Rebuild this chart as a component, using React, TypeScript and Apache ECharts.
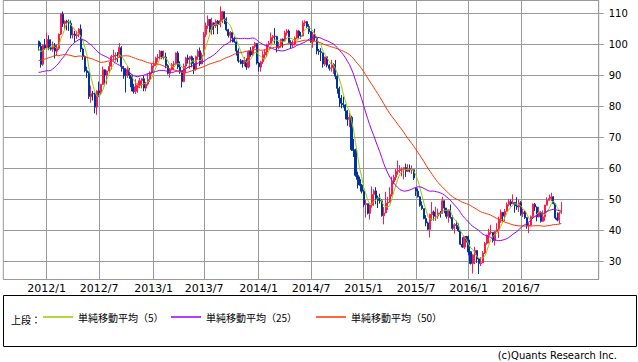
import React, { useEffect, useRef } from "react";
import * as echarts from "echarts";

// ---- axis / label data ----
const axisStartDate = "2011-08-08"; // first weekly slot shown on the x axis
const axisWeekCount = 295;
const firstCandleDate = "2011-12-05";
const xTickLabels = ["2012/1", "2012/7", "2013/1", "2013/7", "2014/1", "2014/7", "2015/1", "2015/7", "2016/1", "2016/7"];
const yTickStep = 10;
const yMin = 24.27;
const yMax = 114.28;

const seriesNames = ["単純移動平均（5）", "単純移動平均（25）", "単純移動平均（50）"];
const maPeriods = [5, 25, 50];
const maColors = ["#99cc00", "#9900ff", "#ff3300"];
const upColor = "#ff1a4b";
const downColor = "#0033a0";

// weekly closes before the first drawn candle (used only for the moving averages)
const preCloses = [
  88.02, 91.51, 91.38, 88.03, 91.54, 89.11, 89.34, 89.03, 85.58, 86.2,
  97.88, 104.42, 101.16, 101.07, 105.4, 107.94, 112.79, 109.66, 112.29, 113.93,
  97.18, 99.65, 99.49, 100.59, 100.22, 99.29, 93.01, 91.16, 94.94, 96.2,
  97.24, 99.87, 95.7, 86.88, 85.38, 82.26, 85.37, 86.45, 87.24, 87.96,
  79.85, 79.2, 82.98, 86.8, 87.4, 93.32, 94.26, 98.99, 97.41, 96.77, 100.96,
];

// weekly candles: [open, close, low, high]
const ohlc2011 = [
  [100.96, 99.41, 98.0, 101.2], [99.41, 93.53, 92.52, 100.62], [93.6, 99.68, 93.1, 99.95], [99.7, 98.83, 98.2, 101.77],
];
const ohlc2012 = [
  [99.0, 101.56, 98.9, 103.74], [101.5, 98.7, 98.1, 102.9], [98.9, 98.46, 98.0, 101.6], [98.4, 99.56, 97.6, 100.9],
  [99.6, 97.84, 95.44, 100.4], [97.8, 98.67, 96.5, 100.0], [98.7, 103.24, 98.2, 103.5], [103.3, 109.77, 103.0, 109.95],
  [109.7, 106.7, 105.6, 110.55], [106.7, 107.4, 104.7, 107.7], [107.4, 107.06, 104.5, 107.9], [107.0, 106.87, 104.3, 108.0],
  [106.8, 103.02, 101.9, 107.7], [103.0, 103.31, 101.9, 105.5], [103.3, 102.83, 100.7, 104.3], [102.8, 103.05, 101.8, 104.4],
  [103.1, 104.93, 102.3, 105.2], [104.9, 98.49, 97.5, 106.4], [98.5, 96.13, 95.0, 98.9], [96.1, 91.48, 91.0, 96.4],
  [91.5, 90.86, 89.2, 92.8], [90.9, 83.23, 82.4, 91.3], [83.2, 84.1, 81.2, 86.7], [84.1, 84.03, 81.9, 85.0],
  [84.0, 79.76, 77.8, 84.5], [79.8, 84.96, 77.28, 85.2], [85.0, 84.45, 83.0, 88.0], [84.5, 87.1, 83.6, 87.3],
  [87.1, 91.83, 86.9, 92.9], [91.8, 90.13, 86.7, 91.9], [90.1, 91.4, 87.1, 91.6], [91.4, 92.87, 90.9, 94.3],
  [92.9, 96.01, 91.9, 96.6], [96.0, 96.15, 94.7, 98.3], [96.1, 96.47, 94.3, 97.4], [96.5, 96.42, 94.2, 97.5],
  [96.4, 99.0, 95.7, 100.42], [98.9, 92.89, 91.2, 99.4], [92.9, 92.19, 88.9, 93.0], [92.2, 89.88, 84.5, 92.3],
  [89.9, 91.86, 89.2, 93.0], [91.9, 90.05, 88.9, 92.4], [90.1, 86.28, 84.9, 90.3], [86.3, 84.86, 84.1, 87.3],
  [84.9, 86.07, 84.0, 88.8], [86.1, 86.92, 84.4, 87.4], [86.9, 88.28, 85.9, 89.2], [88.3, 88.91, 85.8, 89.2],
  [88.9, 85.93, 84.9, 89.9], [85.9, 87.2, 84.9, 87.9], [87.2, 88.66, 86.7, 90.6], [88.7, 90.8, 87.9, 91.3],
  [90.8, 93.09, 90.3, 93.8],
];
const ohlc2013 = [
  [93.1, 93.56, 92.5, 94.5], [93.6, 95.56, 93.1, 96.0], [95.6, 95.88, 94.4, 96.9], [95.9, 97.77, 95.3, 98.2],
  [97.8, 95.72, 95.2, 97.9], [95.7, 95.86, 95.1, 98.0], [95.9, 93.13, 92.3, 97.3], [93.1, 90.68, 90.3, 93.6],
  [90.7, 91.95, 89.3, 92.4], [92.0, 93.45, 91.6, 94.0], [93.5, 93.71, 91.7, 94.6], [93.7, 97.23, 93.5, 97.4],
  [97.2, 92.7, 92.0, 97.8], [92.7, 91.29, 90.5, 94.5], [91.3, 88.01, 86.1, 91.4], [88.0, 92.96, 87.8, 93.8],
  [93.0, 95.61, 90.6, 96.0], [95.6, 95.17, 93.8, 96.7], [95.2, 96.02, 92.1, 96.1], [96.0, 93.84, 92.6, 96.4],
  [93.8, 91.97, 90.4, 95.6], [92.0, 96.03, 91.5, 96.4], [96.0, 97.85, 95.0, 98.4], [97.9, 93.69, 93.0, 99.0],
  [93.7, 96.56, 93.6, 97.3], [96.6, 103.22, 96.4, 104.0], [103.2, 105.95, 102.4, 107.0], [106.0, 108.05, 105.0, 109.3],
  [108.0, 104.7, 103.8, 108.1], [104.7, 106.94, 103.1, 108.6], [106.9, 106.03, 103.2, 107.1], [106.0, 107.46, 105.3, 108.0],
  [107.5, 106.42, 103.3, 107.8], [106.4, 107.65, 105.5, 112.24], [107.7, 110.53, 106.8, 110.7], [110.5, 108.21, 106.5, 110.6],
  [108.2, 104.67, 104.2, 108.7], [104.7, 102.87, 102.2, 105.0], [102.9, 103.84, 100.6, 104.3], [103.8, 102.02, 100.6, 104.0],
  [102.0, 100.81, 100.5, 102.5], [100.8, 97.85, 96.4, 100.9], [97.9, 94.61, 94.1, 98.7], [94.6, 94.6, 93.6, 95.3],
  [94.6, 93.84, 92.5, 95.0], [93.8, 94.84, 92.9, 95.9], [94.8, 92.72, 91.8, 95.5], [92.7, 97.65, 92.3, 98.0],
  [97.7, 96.6, 96.0, 99.1], [96.6, 99.32, 96.3, 99.4], [99.3, 100.32, 98.7, 100.7], [100.3, 93.96, 93.5, 100.4],
];
const ohlc2014 = [
  [94.0, 92.72, 91.2, 94.3], [92.7, 94.37, 91.2, 94.7], [94.4, 96.64, 93.7, 97.8], [96.6, 97.49, 95.4, 98.4],
  [97.5, 99.88, 96.0, 100.2], [99.9, 100.3, 99.3, 101.1], [100.3, 102.2, 100.1, 103.8], [102.2, 102.59, 101.0, 103.0],
  [102.6, 102.58, 100.2, 105.2], [102.6, 98.89, 97.4, 102.7], [98.9, 99.46, 98.4, 100.8], [99.5, 101.67, 98.9, 101.8],
  [101.7, 101.14, 98.9, 101.9], [101.1, 103.74, 100.8, 104.4], [103.7, 104.3, 102.8, 104.9], [104.3, 100.6, 100.4, 104.8],
  [100.6, 99.76, 98.65, 101.3], [99.8, 99.99, 98.9, 101.3], [100.0, 102.02, 99.6, 102.5], [102.0, 104.35, 101.8, 104.7],
  [104.3, 102.71, 101.9, 104.5], [102.7, 102.66, 101.8, 104.0], [102.7, 106.91, 102.5, 107.7], [106.9, 107.26, 105.9, 107.7],
  [107.3, 105.74, 105.3, 107.5], [105.7, 104.06, 103.3, 106.5], [104.1, 100.83, 100.5, 104.2], [100.8, 103.13, 98.9, 104.0],
  [103.1, 102.09, 101.1, 105.0], [102.1, 97.88, 96.8, 102.1], [97.9, 97.65, 96.6, 98.5], [97.6, 97.35, 94.6, 98.8],
  [97.3, 93.65, 92.5, 97.3], [93.6, 95.96, 93.0, 96.0], [96.0, 93.29, 92.6, 96.0], [93.3, 92.27, 91.5, 93.6],
  [92.3, 92.41, 91.2, 95.0], [92.4, 93.54, 90.5, 94.0], [93.5, 89.74, 88.75, 95.0], [89.7, 85.82, 84.1, 90.7],
  [85.8, 82.75, 79.78, 86.4], [82.7, 81.01, 79.4, 83.7], [81.0, 80.54, 79.6, 83.2], [80.5, 78.65, 75.84, 80.7],
  [78.6, 75.82, 73.75, 78.9], [75.8, 76.51, 73.3, 77.9], [76.5, 66.15, 65.69, 77.0], [66.1, 65.84, 63.72, 69.5],
  [65.8, 57.81, 57.35, 66.4], [57.8, 56.52, 53.6, 59.0], [56.5, 54.73, 54.5, 57.4], [54.7, 52.69, 52.0, 55.0],
];
const ohlc2015 = [
  [52.7, 48.36, 47.55, 53.1], [48.4, 48.69, 44.2, 49.9], [48.7, 45.59, 45.2, 48.7], [45.6, 48.24, 43.58, 48.4],
  [48.2, 51.69, 47.4, 54.24], [51.7, 52.78, 48.0, 53.3], [52.8, 50.34, 48.5, 54.0], [50.3, 49.76, 47.3, 51.3],
  [49.8, 49.61, 48.7, 51.9], [49.6, 44.84, 44.5, 50.2], [44.8, 45.72, 42.03, 47.6], [45.7, 48.87, 45.6, 52.5],
  [48.9, 49.14, 46.7, 50.9], [49.1, 51.64, 49.0, 54.0], [51.6, 55.74, 51.0, 57.4], [55.7, 57.15, 55.0, 58.0],
  [57.2, 59.15, 56.2, 59.9], [59.1, 59.39, 58.0, 62.58], [59.4, 59.69, 58.6, 61.1], [59.7, 59.72, 57.5, 60.4],
  [59.7, 60.3, 56.5, 60.4], [60.3, 59.13, 57.3, 61.6], [59.1, 59.96, 58.9, 61.4], [60.0, 59.61, 58.8, 61.3],
  [59.6, 59.63, 58.3, 61.0], [59.6, 56.93, 56.3, 59.7], [53.6, 52.74, 51.2, 53.9], [52.7, 50.89, 50.7, 53.6],
  [50.9, 48.14, 47.7, 51.1], [48.1, 47.12, 46.7, 49.4], [47.1, 43.87, 43.7, 47.1], [43.9, 42.5, 41.4, 45.0],
  [42.5, 40.45, 40.2, 42.9], [40.4, 45.22, 37.75, 45.5], [45.2, 46.05, 43.2, 49.2], [46.0, 44.63, 43.2, 46.5],
  [44.6, 44.68, 43.2, 47.7], [44.7, 45.7, 43.8, 47.1], [45.7, 45.54, 44.2, 46.3], [45.5, 49.63, 45.5, 50.92],
  [49.6, 47.26, 45.6, 49.8], [47.3, 44.6, 43.9, 47.3], [44.6, 46.59, 42.6, 47.0], [46.6, 44.29, 43.9, 48.4],
  [44.3, 40.74, 40.3, 45.0], [40.7, 41.9, 38.99, 42.4], [41.9, 41.71, 40.5, 43.2], [41.7, 39.97, 39.6, 42.3],
  [40.0, 35.62, 35.3, 40.0], [35.6, 34.73, 34.5, 37.9], [34.7, 38.1, 34.1, 38.3], [38.1, 37.04, 36.2, 38.3],
];
const ohlc2016 = [
  [37.0, 33.16, 32.1, 38.4], [33.2, 29.42, 29.1, 33.3], [29.4, 32.19, 26.19, 32.4], [32.2, 33.62, 29.25, 34.8],
  [33.6, 30.89, 29.6, 33.6], [30.9, 29.44, 26.05, 31.2], [29.4, 29.64, 28.6, 31.5], [29.6, 32.78, 29.6, 33.4],
  [32.8, 35.92, 32.5, 36.4], [35.9, 38.5, 35.5, 38.7], [38.5, 39.44, 35.9, 40.6], [39.4, 39.46, 38.8, 41.9],
  [39.5, 36.79, 36.2, 39.5], [36.8, 39.72, 35.2, 39.9], [39.7, 40.36, 39.6, 42.4], [40.4, 43.73, 37.6, 44.5],
  [43.7, 45.92, 42.5, 46.8], [45.9, 44.66, 43.0, 46.0], [44.7, 46.21, 43.0, 47.0], [46.2, 48.41, 46.2, 49.1],
  [48.4, 49.33, 47.8, 50.21], [49.3, 48.62, 47.8, 50.0], [48.6, 49.07, 48.6, 51.67], [49.1, 47.98, 45.8, 49.2],
  [48.0, 47.64, 46.7, 50.8], [47.6, 48.99, 46.0, 49.9], [49.0, 45.41, 44.8, 49.5], [45.4, 45.95, 44.4, 47.0],
  [46.0, 44.19, 43.8, 46.5], [44.2, 41.6, 40.6, 44.3], [41.6, 41.8, 39.19, 42.5], [41.8, 44.49, 41.5, 44.9],
  [44.5, 48.52, 44.0, 48.75], [48.5, 47.64, 46.3, 48.9], [47.6, 44.44, 43.0, 47.8], [44.4, 45.88, 44.3, 47.7],
  [45.9, 43.03, 42.6, 46.3], [43.0, 44.48, 42.8, 46.5], [44.5, 48.24, 43.2, 48.3], [48.2, 49.81, 48.2, 50.74],
  [49.8, 50.35, 49.6, 51.6], [50.3, 50.85, 49.5, 52.22], [50.9, 48.7, 48.5, 51.1], [48.7, 44.07, 43.6, 48.8],
  [44.1, 43.41, 43.0, 45.9], [43.4, 45.69, 42.2, 46.1], [45.7, 46.06, 45.4, 49.2],
];

// ---- helpers (build library inputs from the arrays above) ----
const DAY = 86400000;
const parseDate = (s: string) => {
  const [y, m, d] = s.split("-").map(Number);
  return Date.UTC(y, m - 1, d);
};
const axisStart = parseDate(axisStartDate);
const firstIdx = Math.round((parseDate(firstCandleDate) - axisStart) / (7 * DAY));

const categories: string[] = Array.from({ length: axisWeekCount }, (_, i) => {
  const d = new Date(axisStart + i * 7 * DAY);
  return `${d.getUTCFullYear()}/${d.getUTCMonth() + 1}/${d.getUTCDate()}`;
});

const tickLabelOf = (cat: string): string | null => {
  const [y, m, d] = cat.split("/").map(Number);
  if (d > 7) return null;
  const s = `${y}/${m}`;
  return xTickLabels.includes(s) ? s : null;
};
const showTick = (_i: number, v: string) => tickLabelOf(v) !== null;

const candles = [...ohlc2011, ...ohlc2012, ...ohlc2013, ...ohlc2014, ...ohlc2015, ...ohlc2016];
const candleData = categories.map((_, i) => {
  const k = i - firstIdx;
  return k >= 0 && k < candles.length ? candles[k] : ["-", "-", "-", "-"];
});

const allCloses = [...preCloses, ...candles.map((c) => c[1])];
const movingAverage = (n: number) =>
  categories.map((_, i) => {
    const k = i - firstIdx;
    if (k < 0 || k >= candles.length) return "-";
    const g = k + preCloses.length;
    let s = 0;
    for (let j = 0; j < n; j++) s += allCloses[g - j];
    return +(s / n).toFixed(3);
  });

const legendLefts = [43, 171, 316];

export default function App() {
  const ref = useRef<HTMLDivElement>(null);
  useEffect(() => {
    if (!ref.current) return;
    const chart = echarts.init(ref.current, null, { renderer: "svg" });
    const cjk = "'Noto Sans CJK JP', 'DejaVu Sans', sans-serif";
    chart.setOption({
      animation: false,
      textStyle: { fontFamily: "'DejaVu Sans', sans-serif" },
      grid: {
        left: 3.3,
        right: 39.3,
        top: 0,
        bottom: 82.5,
        show: true,
        borderColor: "#999999",
        borderWidth: 1,
      },
      xAxis: {
        type: "category",
        data: categories,
        boundaryGap: true,
        axisLine: { show: false },
        axisTick: { show: false },
        axisLabel: {
          interval: showTick,
          formatter: (v: string) => tickLabelOf(v) ?? "",
          fontSize: 11,
          color: "#000",
          margin: 3,
        },
        splitLine: {
          show: true,
          interval: showTick,
          alignWithLabel: true,
          lineStyle: { color: "#999999", width: 1 },
        },
      },
      yAxis: {
        type: "value",
        position: "right",
        min: yMin,
        max: yMax,
        splitNumber: 9,
        axisLine: { show: true, lineStyle: { color: "#999999" } },
        axisTick: { show: true, length: 5, lineStyle: { color: "#999999" } },
        axisLabel: {
          showMinLabel: false,
          showMaxLabel: false,
          formatter: (v: number) => (Math.abs(v % yTickStep) < 1e-6 ? String(v) : ""),
          fontSize: 10,
          color: "#000",
          margin: 10,
        },
        splitLine: { show: true, lineStyle: { color: "#999999", width: 1 } },
      },
      legend: seriesNames.map((name, i) => ({
        data: [name],
        left: legendLefts[i],
        top: 312,
        padding: 0,
        itemWidth: 30,
        itemHeight: 1.5,
        icon: "rect",
        selectedMode: false,
        textStyle: { fontSize: 10, color: "#000", fontFamily: cjk },
      })),
      graphic: [
        {
          type: "rect",
          shape: { x: 3.5, y: 295.5, width: 633, height: 51 },
          style: { fill: "none", stroke: "#000", lineWidth: 1 },
        },
        {
          type: "text",
          x: 11,
          y: 319,
          style: { text: "上段：", fontSize: 10, fill: "#000", verticalAlign: "middle", fontFamily: cjk },
        },
        {
          type: "text",
          x: 617,
          y: 355,
          style: {
            text: "(c)Quants Research Inc.",
            fontSize: 10,
            fill: "#000",
            align: "right",
            verticalAlign: "middle",
            fontFamily: "'DejaVu Sans', sans-serif",
          },
        },
      ],
      series: [
        {
          type: "candlestick",
          data: candleData,
          barWidth: 1.6,
          silent: true,
          itemStyle: {
            color: upColor,
            color0: downColor,
            borderColor: upColor,
            borderColor0: downColor,
            borderWidth: 1,
          },
        },
        ...maPeriods.map((n, i) => ({
          type: "line",
          name: seriesNames[i],
          data: movingAverage(n),
          symbol: "none",
          silent: true,
          z: 3 + i,
          lineStyle: { color: maColors[i], width: 1 },
          itemStyle: { color: maColors[i] },
        })),
      ],
    });
    return () => chart.dispose();
  }, []);
  return (
    <div
      ref={ref}
      style={{ position: "absolute", left: 0, top: 0, width: 638, height: 362, background: "#fff" }}
    />
  );
}
